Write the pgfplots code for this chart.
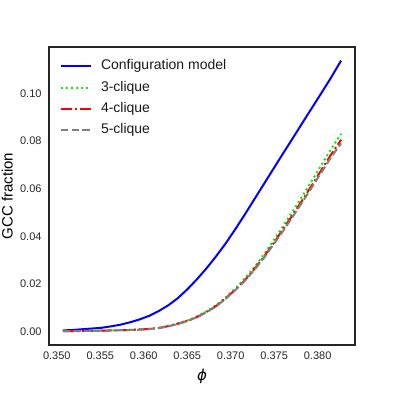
\documentclass[border=0pt]{standalone}
\usepackage{fontspec}
\setmainfont{Liberation Sans}
\newfontfamily\djv{DejaVu Sans}
\usepackage{pgfplots}
\usepackage{pgfplotstable}
\pgfplotsset{compat=1.18}

\definecolor{spine}{gray}{0.15}
\definecolor{cmblue}{RGB}{0,0,255}
\definecolor{kgreen}{RGB}{0,240,0}
\definecolor{kred}{RGB}{255,0,0}
\definecolor{kgray}{RGB}{128,128,128}

\pgfplotstableread{
x      cm     k3     k4     k5
0.3507 0.0005 0.0002 0.0002 0.0002
0.3518 0.0007 0.0002 0.0002 0.0002
0.3529 0.0010 0.0003 0.0003 0.0003
0.3540 0.0013 0.0003 0.0003 0.0003
0.3551 0.0016 0.0004 0.0004 0.0004
0.3562 0.0022 0.0005 0.0005 0.0005
0.3573 0.0029 0.0006 0.0006 0.0006
0.3584 0.0039 0.0007 0.0007 0.0007
0.3595 0.0051 0.0009 0.0009 0.0008
0.3606 0.0066 0.0012 0.0011 0.0011
0.3617 0.0086 0.0016 0.0015 0.0015
0.3628 0.0110 0.0024 0.0023 0.0022
0.3639 0.0140 0.0034 0.0033 0.0032
0.3650 0.0177 0.0047 0.0045 0.0044
0.3661 0.0219 0.0063 0.0061 0.0060
0.3672 0.0265 0.0085 0.0082 0.0081
0.3683 0.0315 0.0110 0.0107 0.0105
0.3694 0.0369 0.0143 0.0139 0.0137
0.3705 0.0428 0.0180 0.0175 0.0173
0.3716 0.0490 0.0222 0.0215 0.0212
0.3727 0.0554 0.0270 0.0262 0.0258
0.3738 0.0618 0.0323 0.0313 0.0308
0.3749 0.0682 0.0381 0.0369 0.0364
0.3760 0.0746 0.0441 0.0428 0.0421
0.3771 0.0809 0.0503 0.0488 0.0480
0.3782 0.0873 0.0566 0.0549 0.0541
0.3793 0.0936 0.0631 0.0612 0.0603
0.3804 0.0999 0.0697 0.0676 0.0666
0.3815 0.1063 0.0763 0.0740 0.0729
0.3827 0.1137 0.0830 0.0805 0.0790
}\gcc

\begin{document}
\begin{tikzpicture}
\path[use as bounding box] (0,0) rectangle (395pt,395pt);
\begin{axis}[at={(49pt,50pt)}, anchor=south west,
  width=306pt, height=298pt, scale only axis,
  xmin=0.3491, xmax=0.3843, ymin=-0.0056, ymax=0.1194,
  xtick={0.350,0.355,...,0.3801}, ytick={0,0.02,...,0.1001},
  axis line style={spine, line width=1.25pt},
  major tick length=0pt,
  /pgf/number format/assume math mode=true,
  tick label style={font=\fontsize{11}{13}\selectfont, text=spine, inner sep=0pt},
  xticklabel style={yshift=-7pt, /pgf/number format/fixed,
    /pgf/number format/fixed zerofill, /pgf/number format/precision=3},
  yticklabel style={xshift=-7.3pt, /pgf/number format/fixed,
    /pgf/number format/fixed zerofill, /pgf/number format/precision=2},
  scaled ticks=false,
  xlabel={{\djv\itshape ϕ}}, ylabel={GCC fraction},
  label style={font=\fontsize{15}{18}\selectfont, text=black},
  xlabel style={at={(axis description cs:0.5,-0.104)}, anchor=center},
  ylabel style={at={(axis description cs:-0.136,0.5)}, anchor=center},
  legend cell align=left,
  legend image code/.code={\draw[#1] (0pt,0pt) -- (30pt,0pt);},
  legend style={draw=none, fill=none, inner sep=0pt, outer sep=0pt,
    at={(axis description cs:0.036,0.960)}, anchor=north west,
    font=\fontsize{14}{17}\selectfont, text=black!90,
    nodes={inner sep=1pt, text height=10pt, text depth=3pt},
    row sep=6.1pt, column sep=8pt},
]
\addplot[cmblue, line width=2pt] table[x=x, y=cm] {\gcc};
\addlegendentry{Configuration model}
\addplot[kgreen, line width=2pt, dash pattern=on 2pt off 3pt] table[x=x, y=k3] {\gcc};
\addlegendentry{3-clique}
\addplot[kred, line width=2pt, dash pattern=on 11pt off 3pt on 2pt off 3pt] table[x=x, y=k4] {\gcc};
\addlegendentry{4-clique}
\addplot[kgray, line width=2pt, dash pattern=on 7.4pt off 3.2pt] table[x=x, y=k5] {\gcc};
\addlegendentry{5-clique}
\end{axis}
\end{tikzpicture}
\end{document}
